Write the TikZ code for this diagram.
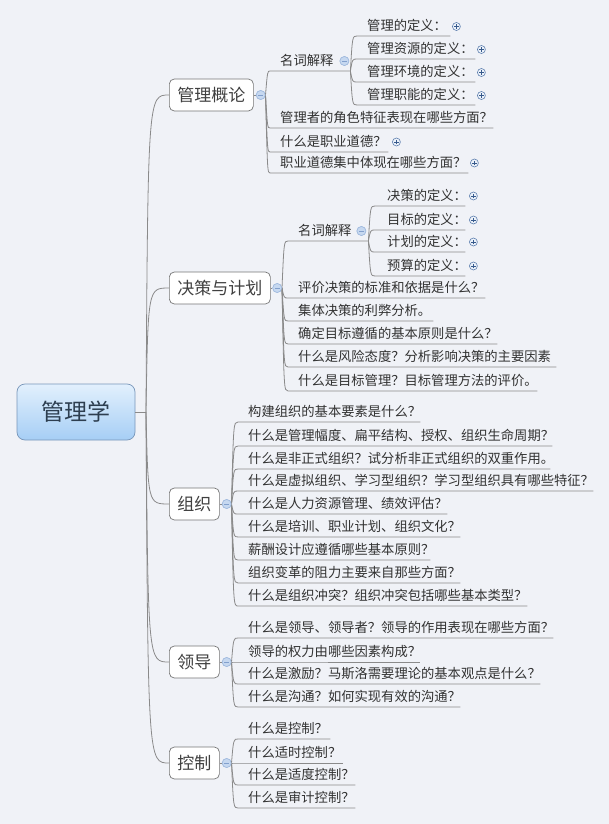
\documentclass[tikz,border=0pt]{standalone}
\usepackage{fontspec}
\newfontfamily\cjk{Noto Sans CJK SC}
\usetikzlibrary{calc}
\definecolor{bg}{RGB}{240,242,247}
\definecolor{linec}{RGB}{138,138,138}
\definecolor{subtxt}{RGB}{50,50,50}
\definecolor{maintxt}{RGB}{64,64,64}
\definecolor{roottxt}{RGB}{45,62,80}
\definecolor{rootT}{RGB}{226,240,253}
\definecolor{rootB}{RGB}{166,206,245}
\definecolor{rootD}{RGB}{120,150,185}
\definecolor{mainD}{RGB}{118,118,118}
\definecolor{plusf}{RGB}{236,242,250}
\definecolor{plusb}{RGB}{95,128,175}
\definecolor{plusc}{RGB}{55,90,140}
\definecolor{minf}{RGB}{198,216,240}
\definecolor{minb}{RGB}{160,186,222}
\definecolor{minc}{RGB}{130,160,205}
\newcommand\ULtext[2]{\makebox[#1pt][l]{\hspace{10pt}#2}}
\tikzset{
  conn/.style={draw=linec, line width=0.8pt},
  sub/.style={anchor=south west, inner xsep=0pt, inner ysep=3.5pt,
    text height=11.4pt, text depth=1.6pt, text=subtxt,
    font={\cjk\fontsize{13.3}{15}\selectfont}},
  mainnode/.style={anchor=west, draw=mainD, fill=white, rounded corners=5pt,
    line width=0.7pt, minimum height=32pt, inner xsep=8pt, inner ysep=0pt,
    text height=15pt, text depth=2pt, text=maintxt,
    font={\cjk\fontsize{17}{19}\selectfont}},
  rootnode/.style={draw=rootD, top color=rootT, bottom color=rootB,
    rounded corners=8pt, line width=0.7pt, minimum width=118pt, minimum height=56pt,
    text=roottxt, font={\cjk\fontsize{23}{25}\selectfont}},
  plus/.style={circle, minimum size=8pt, inner sep=0pt, draw=plusb, fill=plusf,
    line width=0.6pt,
    path picture={\draw[plusc, line width=0.8pt]
      ([xshift=-2.3pt]path picture bounding box.center) -- ([xshift=2.3pt]path picture bounding box.center)
      ([yshift=-2.3pt]path picture bounding box.center) -- ([yshift=2.3pt]path picture bounding box.center);}},
  minus/.style={circle, minimum size=9pt, inner sep=0pt, draw=minb, fill=minf,
    line width=0.6pt,
    path picture={\draw[minc, line width=0.9pt]
      ([xshift=-2.3pt]path picture bounding box.center) -- ([xshift=2.3pt]path picture bounding box.center);}},
}
\begin{document}
\begin{tikzpicture}[x=1pt,y=-1pt]
\useasboundingbox (0,0) rectangle (609,824);
\fill[bg] (0,0) rectangle (609,824);

% root
\node[rootnode] (root) at (76,412) {管理学};
\coordinate (J) at (146,412);

% main topics
\node[mainnode] (n1) at (169,95) {管理概论};
\node[mainnode] (n2) at (169,288) {决策与计划};
\node[mainnode] (n3) at (169,504) {组织};
\node[mainnode] (n4) at (169,662) {领导};
\node[mainnode] (n5) at (169,763) {控制};

\draw[conn] (root.east) -- (J);
\foreach \n in {n1,n2,n3,n4,n5}
  \draw[conn] (J) .. controls ($(J |- \n.west)+(2,0)$) .. (\n.west);

% collapse markers of main topics
\node[minus] (m1) at ($(n1.east)+(7,0)$) {};
\node[minus] (m2) at ($(n2.east)+(6.5,0)$) {};
\node[minus] (m3) at ($(n3.east)+(7,0)$) {};
\node[minus] (m4) at ($(n4.east)+(7,0)$) {};
\node[minus] (m5) at ($(n5.east)+(7,0)$) {};
\foreach \i in {1,...,5} \draw[conn] (n\i.east) -- (m\i.west);

% ---- branch 1
\node[sub] (a1) at (270,71) {\ULtext{80}{名词解释}};
\node[sub] (a2) at (270,128) {\ULtext{223}{管理者的角色特征表现在哪些方面？}};
\node[sub] (a3) at (270,152) {\ULtext{118}{什么是职业道德？}};
\node[sub] (a4) at (270,173) {\ULtext{198}{职业道德集中体现在哪些方面？}};
\node[minus] (ma1) at ($(a1.south east)+(-6,-10)$) {};
\node[plus] (pa3) at ($(a3.south east)+(8,-10)$) {};
\node[plus] (pa4) at ($(a4.south east)+(6,-10)$) {};

\node[sub] (aa1) at (357,36) {\ULtext{93}{管理的定义：}};
\node[sub] (aa2) at (357,59) {\ULtext{118}{管理资源的定义：}};
\node[sub] (aa3) at (357,82) {\ULtext{118}{管理环境的定义：}};
\node[sub] (aa4) at (357,105) {\ULtext{118}{管理职能的定义：}};
\foreach \c in {aa1,aa2,aa3,aa4} \node[plus] (p\c) at ($(\c.south east)+(6,-9.5)$) {};

\foreach \c in {a1,a2,a3,a4}
  \draw[conn] (m1.east) .. controls ($(m1.east |- \c.south west)+(2,0)$) .. (\c.south west) -- (\c.south east);
\foreach \c in {aa1,aa2,aa3,aa4}
  \draw[conn] (a1.south east) .. controls ($(a1.south east |- \c.south west)+(2,0)$) .. (\c.south west) -- (\c.south east);

% ---- branch 2
\node[sub] (b1) at (288,241) {\ULtext{80}{名词解释}};
\node[sub] (b2) at (288,298) {\ULtext{197}{评价决策的标准和依据是什么？}};
\node[sub] (b3) at (288,321) {\ULtext{145}{集体决策的利弊分析。}};
\node[sub] (b4) at (288,344) {\ULtext{209}{确定目标遵循的基本原则是什么？}};
\node[sub] (b5) at (288,367) {\ULtext{268}{什么是风险态度？分析影响决策的主要因素}};
\node[sub] (b6) at (288,391) {\ULtext{249}{什么是目标管理？目标管理方法的评价。}};
\node[minus] (mb1) at ($(b1.south east)+(-7,-10)$) {};

\node[sub] (bb1) at (375,206) {\ULtext{90}{\hspace{2pt}决策的定义：}};
\node[sub] (bb2) at (375,230) {\ULtext{90}{\hspace{2pt}目标的定义：}};
\node[sub] (bb3) at (375,252) {\ULtext{90}{\hspace{2pt}计划的定义：}};
\node[sub] (bb4) at (375,276) {\ULtext{90}{\hspace{2pt}预算的定义：}};
\foreach \c in {bb1,bb2,bb3,bb4} \node[plus] (p\c) at ($(\c.south east)+(8,-10)$) {};

\foreach \c in {b1,b2,b3,b4,b5,b6}
  \draw[conn] (m2.east) .. controls ($(m2.east |- \c.south west)+(2,0)$) .. (\c.south west) -- (\c.south east);
\foreach \c in {bb1,bb2,bb3,bb4}
  \draw[conn] (b1.south east) .. controls ($(b1.south east |- \c.south west)+(2,0)$) .. (\c.south west) -- (\c.south east);

% ---- branch 3
\node[sub] (c1) at (238,422) {\ULtext{182}{构建组织的基本要素是什么？}};
\node[sub] (c2) at (238,446) {\ULtext{314}{什么是管理幅度、扁平结构、授权、组织生命周期？}};
\node[sub] (c3) at (238,469) {\ULtext{312}{什么是非正式组织？试分析非正式组织的双重作用。}};
\node[sub] (c4) at (238,491) {\ULtext{355}{什么是虚拟组织、学习型组织？学习型组织具有哪些特征？}};
\node[sub] (c5) at (238,514) {\ULtext{209}{什么是人力资源管理、绩效评估？}};
\node[sub] (c6) at (238,537) {\ULtext{222}{什么是培训、职业计划、组织文化？}};
\node[sub] (c7) at (238,560) {\ULtext{192}{薪酬设计应遵循哪些基本原则？}};
\node[sub] (c8) at (238,583) {\ULtext{222}{组织变革的阻力主要来自那些方面？}};
\node[sub] (c9) at (238,606) {\ULtext{289}{什么是组织冲突？组织冲突包括哪些基本类型？}};
\foreach \c in {c1,c2,c3,c4,c5,c6,c7,c8,c9}
  \draw[conn] (m3.east) .. controls ($(m3.east |- \c.south west)+(2,0)$) .. (\c.south west) -- (\c.south east);

% ---- branch 4
\node[sub] (d1) at (238,638) {\ULtext{315}{什么是领导、领导者？领导的作用表现在哪些方面？}};
\node[sub] (d2) at (238,662) {\ULtext{182}{领导的权力由哪些因素构成？}};
\node[sub] (d3) at (238,684) {\ULtext{302}{什么是激励？马斯洛需要理论的基本观点是什么？}};
\node[sub] (d4) at (238,707) {\ULtext{222}{什么是沟通？如何实现有效的沟通？}};
\foreach \c in {d1,d2,d3,d4}
  \draw[conn] (m4.east) .. controls ($(m4.east |- \c.south west)+(2,0)$) .. (\c.south west) -- (\c.south east);

% ---- branch 5
\node[sub] (e1) at (238,739) {\ULtext{92}{什么是控制？}};
\node[sub] (e2) at (238,763) {\ULtext{105}{什么适时控制？}};
\node[sub] (e3) at (238,785) {\ULtext{117}{什么是适度控制？}};
\node[sub] (e4) at (238,808) {\ULtext{117}{什么是审计控制？}};
\foreach \c in {e1,e2,e3,e4}
  \draw[conn] (m5.east) .. controls ($(m5.east |- \c.south west)+(2,0)$) .. (\c.south west) -- (\c.south east);

% redraw markers on top of connectors
\foreach \m in {m1,m2,m3,m4,m5,ma1,mb1} \node[minus] at (\m) {};
\end{tikzpicture}
\end{document}
